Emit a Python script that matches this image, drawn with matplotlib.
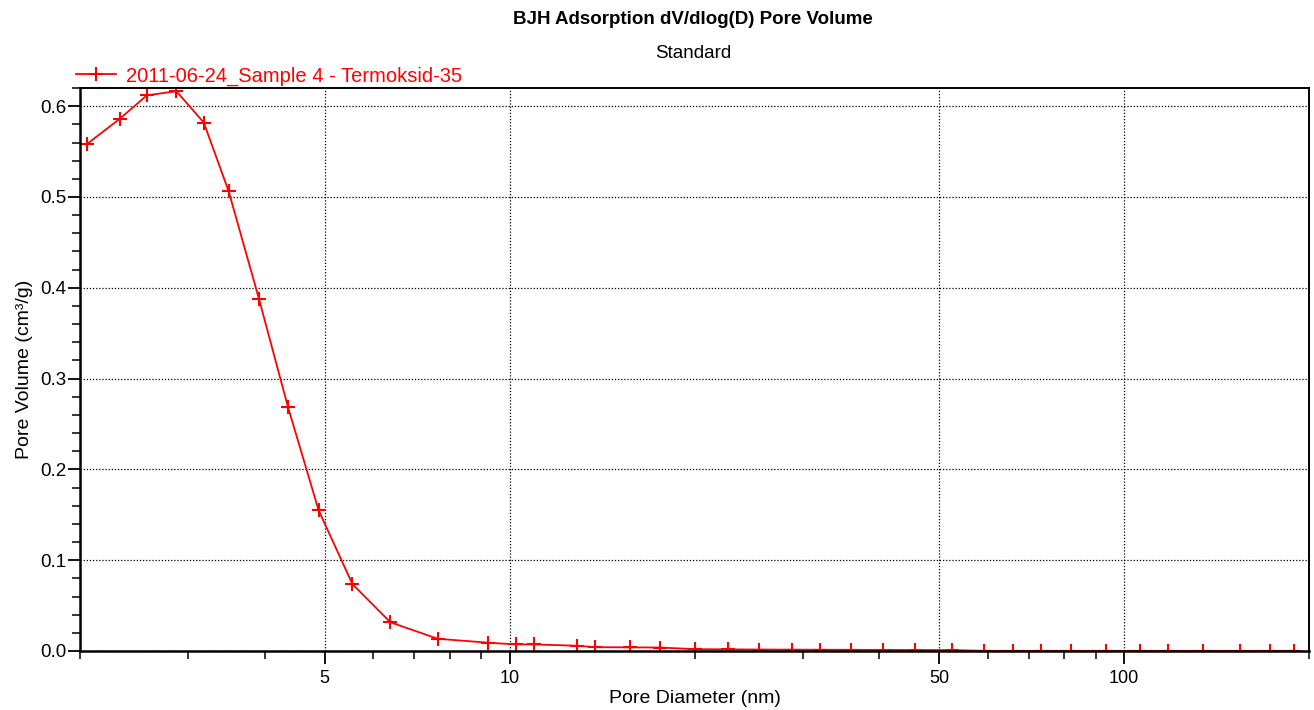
import matplotlib
matplotlib.use("Agg")
import matplotlib.pyplot as plt
from matplotlib.ticker import FixedLocator, NullFormatter, MultipleLocator

plt.rcParams['font.family'] = ['Liberation Sans', 'DejaVu Sans']

# pore diameter (nm) and dV/dlog(D) pore volume (cm3/g)
diameter = [2.05, 2.32, 2.57, 2.87, 3.18, 3.49, 3.91, 4.36, 4.89, 5.55, 6.40,
            7.64, 9.24, 10.23, 10.98, 12.86, 13.80, 15.73, 17.60, 20.06, 22.71,
            25.50, 28.86, 32.03, 35.98, 40.56, 45.74, 52.53, 59.20, 66.01, 73.29,
            82.00, 93.48, 106.2, 117.9, 134.4, 154.4, 172.8, 189.0]
volume = [0.558, 0.586, 0.612, 0.6165, 0.582, 0.5065, 0.388, 0.2686, 0.155,
          0.0737, 0.0316, 0.0135, 0.0091, 0.0073, 0.0072, 0.0058, 0.0042, 0.0040,
          0.0038, 0.0020, 0.0018, 0.0016, 0.0015, 0.0014, 0.0013, 0.0012, 0.0011,
          0.0010, 0.0002, 0.0002, 0.0002, 0.0002, 0.0002, 0.0002, 0.0002, 0.0002,
          0.0002, 0.0002, 0.0002]
label = "2011-06-24_Sample 4 - Termoksid-35"

major_x = [5, 10, 50, 100]
minor_x = [2, 3, 4, 6, 7, 8, 9, 20, 30, 40, 60, 70, 80, 90, 200]

fig = plt.figure(figsize=(13.14, 7.10), dpi=100)
ax = fig.add_axes([0.0609, 0.0831, 0.9353, 0.7929])

ax.plot(diameter, volume, color='red', lw=1.3, marker='+', ms=10, mew=1.5,
        label=label)

ax.set_xscale('log')
ax.set_xlim(2, 200)
ax.set_ylim(0, 0.62)

ax.xaxis.set_major_locator(FixedLocator(major_x))
ax.xaxis.set_major_formatter(matplotlib.ticker.FixedFormatter([str(v) for v in major_x]))
ax.xaxis.set_minor_locator(FixedLocator(minor_x))
ax.xaxis.set_minor_formatter(NullFormatter())
ax.yaxis.set_major_locator(MultipleLocator(0.1))
ax.yaxis.set_minor_locator(MultipleLocator(0.02))
ax.yaxis.set_major_formatter(matplotlib.ticker.FormatStrFormatter('%.1f'))

ax.tick_params(axis='both', which='major', direction='out', width=1.3, colors='black')
ax.tick_params(axis='both', which='minor', direction='out', width=1.1)
ax.tick_params(axis='x', which='major', length=9, pad=5, labelsize=13)
ax.tick_params(axis='x', which='minor', length=5.5)
ax.tick_params(axis='y', which='major', length=9, pad=1, labelsize=13.5)
ax.tick_params(axis='y', which='minor', length=6)

ax.grid(True, which='major', color='black', linestyle=(0, (1, 1.5)), linewidth=0.9)

for side in ['left', 'bottom']:
    ax.spines[side].set_linewidth(1.8)
for side in ['top', 'right']:
    ax.spines[side].set_linewidth(1.4)

ax.set_xlabel("Pore Diameter (nm)", fontsize=14, labelpad=2)
ax.set_ylabel("Pore Volume (cm³/g)", fontsize=14, labelpad=5)

fig.text(0.5275, 0.973, "BJH Adsorption dV/dlog(D) Pore Volume", ha='center',
         va='center', fontsize=13.5, fontweight='bold')
fig.text(0.5275, 0.925, "Standard", ha='center', va='center', fontsize=13.5)

ax.legend(loc='center left', bbox_to_anchor=(76 / 1314, 1 - 76 / 710),
          bbox_transform=fig.transFigure, frameon=False, labelcolor='red',
          fontsize=14.5, handlelength=2.0, handletextpad=0.5,
          borderaxespad=0, borderpad=0)

fig.savefig("out.png", dpi=100)
